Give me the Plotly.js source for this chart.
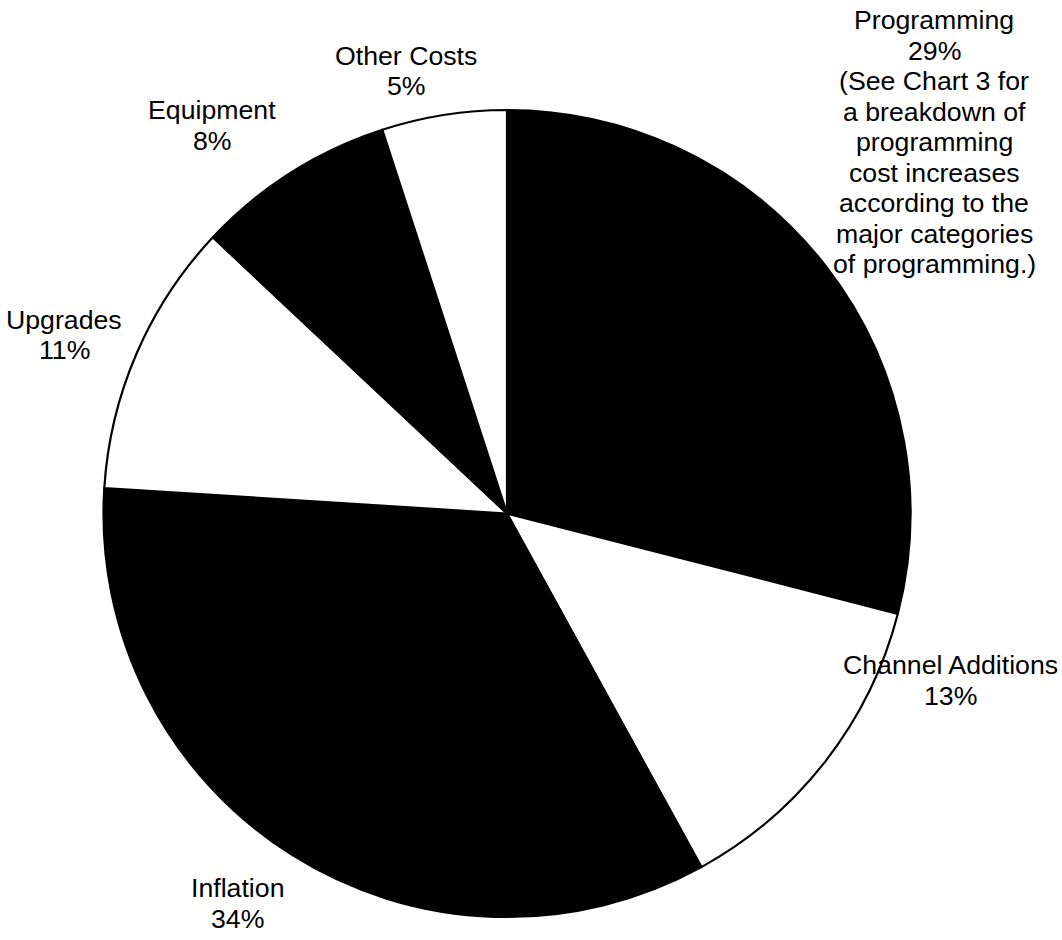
<!DOCTYPE html>
<html>
<head>
<meta charset="utf-8">
<script src="https://cdn.plot.ly/plotly-3.0.1.min.js"></script>
<style>html,body{margin:0;padding:0;background:#fff;}#chart{width:1062px;height:940px;}</style>
</head>
<body>
<div id="chart"></div>
<script>
// ---- data ----
const categories = ['Programming', 'Channel Additions', 'Inflation', 'Upgrades', 'Equipment', 'Other Costs'];
const shares = [29, 13, 34, 11, 8, 5];
const notes = [
  ['(See Chart 3 for', 'a breakdown of', 'programming', 'cost increases', 'according to the', 'major categories', 'of programming.)'],
  [], [], [], [], []
];

// ---- presentation ----
const W = 1062, H = 940;
const sliceFill = ['#000000', '#ffffff', '#000000', '#ffffff', '#000000', '#ffffff'];
// label block anchor: centre x and cap-centre y of the first line (pixels)
const labelPos = [
  [934, 20], [950, 665], [237, 888], [64, 320], [212, 110], [406, 56]
];
const lineGap = 30.5;
const fontSize = 26.7;

const annotations = [];
categories.forEach((cat, i) => {
  const lines = [cat, shares[i] + '%'].concat(notes[i]);
  lines.forEach((ln, j) => {
    annotations.push({
      text: ln, showarrow: false, xref: 'paper', yref: 'paper',
      x: labelPos[i][0] / W, y: 1 - (labelPos[i][1] + j * lineGap) / H,
      xanchor: 'center', yanchor: 'middle',
      font: {family: '"Liberation Sans", Arial, sans-serif', size: fontSize, color: '#000'}
    });
  });
});

const trace = {
  type: 'pie',
  labels: categories,
  values: shares,
  sort: false,
  direction: 'clockwise',
  rotation: 0,
  textinfo: 'none',
  hoverinfo: 'label+percent',
  marker: {colors: sliceFill, line: {color: '#000', width: 2.2}},
  domain: {x: [103 / W, 911 / W], y: [1 - 917 / H, 1 - 110 / H]}
};

Plotly.newPlot('chart', [trace], {
  width: W, height: H,
  margin: {l: 0, r: 0, t: 0, b: 0},
  paper_bgcolor: '#fff', plot_bgcolor: '#fff',
  showlegend: false,
  annotations: annotations
}, {displayModeBar: false, staticPlot: true});
</script>
</body>
</html>
